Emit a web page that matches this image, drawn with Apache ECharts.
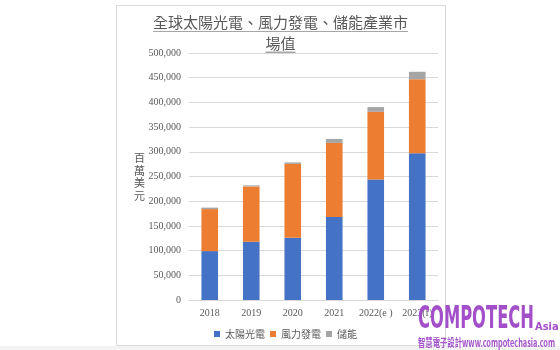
<!DOCTYPE html>
<html><head><meta charset="utf-8">
<script src="https://cdn.jsdelivr.net/npm/echarts@6/dist/echarts.min.js"></script>
<style>html,body{margin:0;padding:0;background:#fff}#c{width:560px;height:350px}</style>
</head><body><div id="c"></div>
<script>
var categories = ['2018', '2019', '2020', '2021', '2022(e )', '2023(f)'];
var solar = [99000, 118000, 126000, 168000, 244000, 297000];
var wind = [85000, 112000, 149500, 150000, 137000, 150000];
var storage = [3000, 2000, 3000, 8000, 9500, 15000];
var seriesNames = ['太陽光電', '風力發電', '儲能'];
var titleLines = ['全球太陽光電、風力發電、儲能產業市', '場值'];
var yName = '百萬美元';

function measure(text, font) {
  var cv = document.createElement('canvas').getContext('2d');
  cv.font = font;
  return cv.measureText(text).width;
}
var logoFont = 'bold 32px "DejaVu Sans Condensed", "DejaVu Sans", sans-serif';
var logoScale = 116 / measure('COMPOTECH', logoFont);
var subFont = 'bold 11px "Noto Sans CJK TC", "DejaVu Sans Condensed", sans-serif';
var subScale = 137 / measure('智慧電子設計www.compotechasia.com', subFont);
var t1w = measure(titleLines[0], '15px "Noto Sans CJK TC"');
var t2w = measure(titleLines[1], '15px "Noto Sans CJK TC"');

var chart = echarts.init(document.getElementById('c'), null, {renderer: 'canvas'});
var gray = '#595959';
chart.setOption({
  animation: false,
  color: ['#4472C4', '#ED7D31', '#A5A5A5'],
  grid: {left: 189, right: 122, top: 53, bottom: 50},
  legend: {
    left: 214, top: 329, padding: 0, icon: 'rect', itemWidth: 6, itemHeight: 6, itemGap: 5,
    textStyle: {color: gray, fontSize: 10, fontFamily: '"Noto Sans CJK TC"'},
    data: seriesNames
  },
  xAxis: {
    type: 'category', data: categories,
    axisLine: {lineStyle: {color: '#d9d9d9'}},
    axisTick: {show: false},
    axisLabel: {color: gray, fontSize: 10, fontFamily: '"Liberation Serif", serif', margin: 8, interval: 0}
  },
  yAxis: {
    type: 'value', min: 0, max: 500000, interval: 50000,
    axisLine: {show: false}, axisTick: {show: false},
    splitLine: {lineStyle: {color: '#d9d9d9'}},
    axisLabel: {color: gray, fontSize: 10, fontFamily: '"Liberation Serif", serif', margin: 8,
      formatter: function (v) { return v.toLocaleString('en-US'); }}
  },
  series: [
    {name: seriesNames[0], type: 'bar', stack: 's', data: solar, barWidth: '40%'},
    {name: seriesNames[1], type: 'bar', stack: 's', data: wind, barWidth: '40%'},
    {name: seriesNames[2], type: 'bar', stack: 's', data: storage, barWidth: '40%'}
  ],
  graphic: [
    {type: 'rect', shape: {x: 0, y: 346, width: 560, height: 4}, style: {fill: '#f2f2f2'}, z: -1},
    {type: 'rect', shape: {x: 116.5, y: 5.5, width: 329, height: 340}, style: {fill: 'none', stroke: '#d9d9d9', lineWidth: 1}, z: -1},
    {type: 'text', x: 280.5, y: 22.5, style: {text: titleLines[0], font: '15px "Noto Sans CJK TC"', fill: gray, align: 'center', verticalAlign: 'middle'}},
    {type: 'rect', shape: {x: 280.5 - t1w / 2, y: 31, width: t1w, height: 1}, style: {fill: '#a6a6a6'}},
    {type: 'text', x: 280.5, y: 43, style: {text: titleLines[1], font: '15px "Noto Sans CJK TC"', fill: gray, align: 'center', verticalAlign: 'middle'}},
    {type: 'rect', shape: {x: 280.5 - t2w / 2, y: 51.5, width: t2w, height: 1.5}, style: {fill: '#a6a6a6'}},
    {type: 'text', x: 139.5, y: 177, style: {text: yName.split('').join('\n'), font: '11px "Noto Sans CJK TC"', fill: gray, align: 'center', verticalAlign: 'middle', lineHeight: 12.5}},
    {type: 'text', x: 418, y: 320, scaleX: logoScale, style: {text: 'COMPOTECH', font: logoFont, fill: '#a24fc9', align: 'left', verticalAlign: 'middle'}, z: 100},
    {type: 'text', x: 535, y: 327, style: {text: 'Asia', font: 'bold 11px "DejaVu Sans Condensed", sans-serif', fill: '#a24fc9', align: 'left', verticalAlign: 'middle'}, z: 100},
    {type: 'text', x: 418, y: 342.5, scaleX: subScale, style: {text: '智慧電子設計www.compotechasia.com', font: subFont, fill: '#a24fc9', align: 'left', verticalAlign: 'middle'}, z: 100}
  ]
});
</script></body></html>
